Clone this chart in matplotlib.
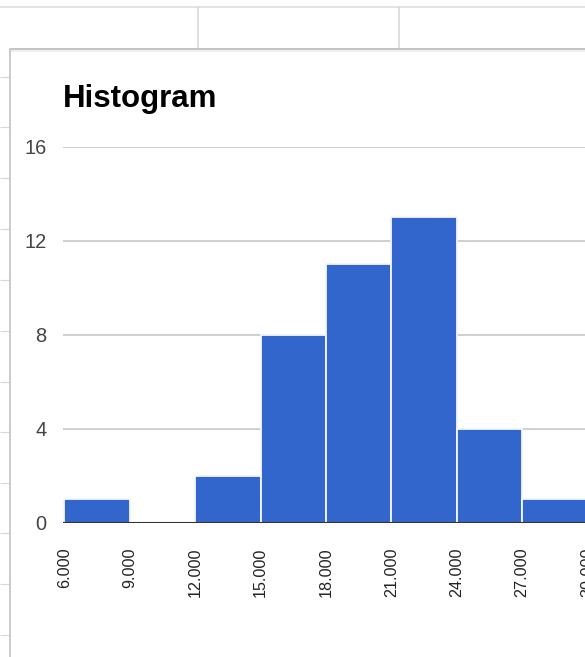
"""
Recreate a Google Sheets style histogram screenshot.
"""
import matplotlib
matplotlib.use("Agg")
import matplotlib.pyplot as plt
from matplotlib.lines import Line2D

# data
bin_edges = [6, 9, 12, 15, 18, 21, 24, 27, 30]
counts = [1, 0, 2, 8, 11, 13, 4, 1]
y_ticks = [0, 4, 8, 12, 16]
x_tick_labels = ["6.000", "9.000", "12.000", "15.000", "18.000",
                 "21.000", "24.000", "27.000", "30.000"]
title = "Histogram"

W, H = 585, 657
DPI = 100
BLUE = "#3366cc"

plt.rcParams["font.family"] = ["Liberation Sans", "DejaVu Sans"]

fig = plt.figure(figsize=(W / DPI, H / DPI), dpi=DPI, facecolor="white")


def px_line(x0, y0, x1, y1, color, lw):
    # line in screenshot pixel coords (origin top-left)
    fig.add_artist(Line2D([x0 / W, x1 / W], [1 - y0 / H, 1 - y1 / H],
                          transform=fig.transFigure, color=color,
                          linewidth=lw * 72 / DPI, solid_capstyle="butt"))


# spreadsheet cells behind the chart
px_line(0, 6.5, W, 6.5, "#e2e2e2", 2)
for x in (198, 399):
    px_line(x, 7, x, 48, "#d4d4d4", 1.5)
for y in (77, 127, 178, 229, 280, 331, 382, 432, 483, 533, 584, 635):
    px_line(0, y, 9, y, "#d8d8d8", 1.2)

# chart panel border
px_line(10, 48.5, W, 48.5, "#c4c4c4", 2)
px_line(10, 48, 10, H, "#cccccc", 2)
px_line(11, 50.5, W, 50.5, "#ececec", 1.5)

# plot area in pixels
left_px, right_px = 62.5, 587.5
top_px, bottom_px = 147.0, 522.7
x_lo = 6 - (64.3 - left_px) / 21.8
ax = fig.add_axes([left_px / W, 1 - bottom_px / H,
                   (right_px - left_px) / W, (bottom_px - top_px) / H])
ax.set_xlim(x_lo, 30)
ax.set_ylim(0, 16)

widths = [b - a for a, b in zip(bin_edges[:-1], bin_edges[1:])]
ax.bar(bin_edges[:-1], counts, width=widths, align="edge", color=BLUE,
       edgecolor="#f4f7fd", linewidth=1.3, zorder=2)

for y in y_ticks[1:]:
    ax.axhline(y, color="#cccccc", linewidth=1.3, zorder=1)
ax.axhline(0, color="#333333", linewidth=1.5, zorder=3)

for s in ax.spines.values():
    s.set_visible(False)
ax.set_facecolor("none")

ax.set_yticks(y_ticks)
ax.set_yticklabels([str(v) for v in y_ticks])
ax.tick_params(axis="y", length=0, pad=11.5, labelsize=14.4, labelcolor="#444444")

ax.set_xticks(bin_edges)
ax.set_xticklabels(x_tick_labels, rotation=90, va="top", ha="center")
ax.tick_params(axis="x", length=0, pad=18, labelsize=11.6, labelcolor="#222222")

fig.text(63 / W, 1 - 107 / H, title, fontsize=22.5, fontweight="bold",
         color="black", ha="left", va="baseline")

fig.savefig("out.png", dpi=DPI, facecolor="white")
